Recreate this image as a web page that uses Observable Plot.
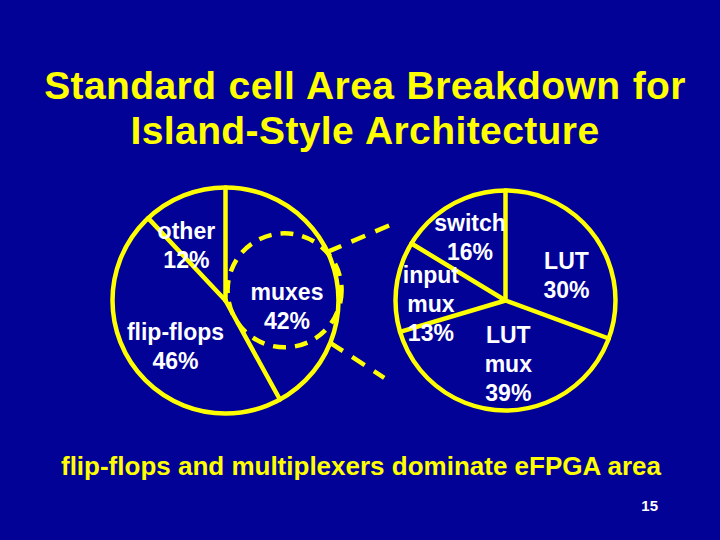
<!DOCTYPE html>
<html>
<head>
<meta charset="utf-8">
<script src="https://cdn.jsdelivr.net/npm/d3@7"></script>
<script src="https://cdn.jsdelivr.net/npm/@observablehq/plot@0.6"></script>
<style>
  html, body { margin: 0; padding: 0; background: #020297; }
  #page { position: relative; width: 720px; height: 540px; background: #020297; overflow: hidden;
          font-family: "Liberation Sans", Arial, sans-serif; }
  #title { position: absolute; left: 5px; top: 63px; width: 720px; text-align: center; color: #ffff00;
           font-weight: bold; font-size: 39px; line-height: 45px; letter-spacing: 0.4px; word-spacing: 1px; margin: 0; }
  #chart { position: absolute; left: 0; top: 160px; }
  #caption { position: absolute; left: 0; top: 451px; width: 722px; text-align: center; color: #ffff00;
             font-weight: bold; font-size: 26px; line-height: 30px; margin: 0; }
  #pagenum { position: absolute; right: 62px; top: 497px; color: #ffffff; font-weight: bold;
             font-size: 15px; line-height: 18px; }
</style>
</head>
<body>
<div id="page">
  <div id="title">Standard cell Area Breakdown for<br>Island-Style Architecture</div>
  <div id="chart"></div>
  <div id="caption">flip-flops and multiplexers dominate eFPGA area</div>
  <div id="pagenum">15</div>
</div>
<script>
// ---- data ----
const leftCategories = ["muxes", "flip-flops", "other"];
const leftValues = [42, 46, 12];
const rightCategories = ["LUT", "LUT mux", "input mux", "switch"];
const rightValues = [30, 39, 13, 16];
const highlightCategory = "muxes";

// ---- layout (page-pixel units used as the chart's data units) ----
const layout = {
  left:  {cx: 225, cy: 300, r: 113, labelR: 0.58},
  right: {cx: 505, cy: 300, r: 110, labelR: 0.62},
  highlight: {rho: 0.54, r: 57, nudge: [0, 5]},
  labelNudge: {
    "muxes": [-2, 21], "flip-flops": [3, 6], "other": [-15, 5],
    "LUT": [5, 13], "LUT mux": [5, -6], "input mux": [-7, 11], "switch": [-2, -5]
  },
  connectors: [
    {fromAngle: 64.5, dx: 63, dy: -27},
    {fromAngle: 112, dx: 54, dy: 35}
  ]
};

const YELLOW = "#ffff00";
const pie = d3.pie().sort(null).value(d => d.value);

function buildPie(cats, vals, geo) {
  const data = cats.map((c, i) => ({category: c, value: vals[i]}));
  const arcs = pie(data);
  const spokes = arcs.map(a => ({
    x1: geo.cx, y1: geo.cy,
    x2: geo.cx + geo.r * Math.sin(a.startAngle),
    y2: geo.cy - geo.r * Math.cos(a.startAngle)
  }));
  const labels = arcs.map(a => {
    const mid = (a.startAngle + a.endAngle) / 2;
    const rho = geo.r * geo.labelR;
    const n = layout.labelNudge[a.data.category] || [0, 0];
    return {
      x: geo.cx + rho * Math.sin(mid) + n[0],
      y: geo.cy - rho * Math.cos(mid) + n[1],
      text: a.data.category.split(" ").join("\n") + "\n" + a.data.value + "%"
    };
  });
  return {arcs, spokes, labels};
}

const L = buildPie(leftCategories, leftValues, layout.left);
const R = buildPie(rightCategories, rightValues, layout.right);

const outlines = [layout.left, layout.right].map(g => ({x: g.cx, y: g.cy, r: g.r}));

const hArc = L.arcs.find(a => a.data.category === highlightCategory);
const hMid = (hArc.startAngle + hArc.endAngle) / 2;
const hRho = layout.left.r * layout.highlight.rho;
const highlight = [{
  x: layout.left.cx + hRho * Math.sin(hMid) + layout.highlight.nudge[0],
  y: layout.left.cy - hRho * Math.cos(hMid) + layout.highlight.nudge[1],
  r: layout.highlight.r
}];

const connectors = layout.connectors.map(c => {
  const a = c.fromAngle * Math.PI / 180;
  const x1 = layout.left.cx + layout.left.r * Math.sin(a);
  const y1 = layout.left.cy - layout.left.r * Math.cos(a);
  return {x1, y1, x2: x1 + c.dx, y2: y1 + c.dy};
});

const labelFont = "Liberation Sans, Arial, sans-serif";

const chart = Plot.plot({
  width: 720,
  height: 280,
  margin: 0,
  x: {domain: [0, 720], range: [0, 720], axis: null},
  y: {domain: [160, 440], range: [0, 280], axis: null},
  r: {type: "identity"},
  style: {background: "transparent", overflow: "visible"},
  marks: [
    Plot.link([...L.spokes, ...R.spokes], {x1: "x1", y1: "y1", x2: "x2", y2: "y2",
      stroke: YELLOW, strokeWidth: 4.5, strokeLinecap: "round"}),
    Plot.dot(outlines, {x: "x", y: "y", r: "r", fill: "none", stroke: YELLOW, strokeWidth: 4.5}),
    Plot.dot(highlight, {x: "x", y: "y", r: "r", fill: "none", stroke: YELLOW, strokeWidth: 4.5,
      strokeDasharray: "13,9"}),
    Plot.link(connectors, {x1: "x1", y1: "y1", x2: "x2", y2: "y2", stroke: YELLOW, strokeWidth: 4.5,
      strokeDasharray: "15,11"}),
    Plot.text([...L.labels, ...R.labels], {x: "x", y: "y", text: "text", fill: "white",
      fontSize: 23, fontWeight: "bold", lineHeight: 1.27, fontFamily: labelFont,
      textAnchor: "middle", lineAnchor: "middle"})
  ]
});
document.getElementById("chart").appendChild(chart);
</script>
</body>
</html>
